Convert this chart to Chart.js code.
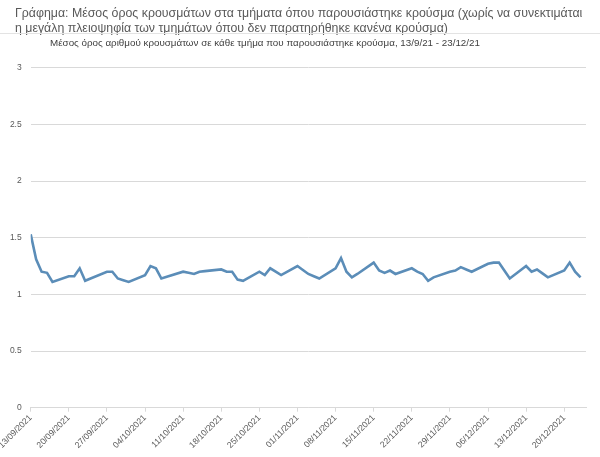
<!DOCTYPE html>
<html>
<head>
<meta charset="utf-8">
<script src="https://cdn.jsdelivr.net/npm/chart.js@4"></script>
<style>
  html, body { margin: 0; padding: 0; background: #fff; }
  body { width: 600px; height: 457px; position: relative; overflow: hidden; font-family: "Liberation Sans", Arial, sans-serif; }
  #t1, #t2 { position: absolute; left: 15px; color: #595959; white-space: nowrap; font-size: 14px; line-height: 15px; }
  #t1 { top: 6px; }
  #t2 { top: 21px; }
  #rule { position: absolute; left: 0; top: 33px; width: 600px; height: 0; border-top: 1px solid #e3e3e3; }
  #sub { position: absolute; top: 36px; color: #404040; white-space: nowrap; font-size: 11px; line-height: 13px; }
  #wrap { position: absolute; left: 0; top: 0; width: 600px; height: 457px; }
</style>
</head>
<body>
<div id="wrap"><canvas id="c" width="600" height="457"></canvas></div>
<div id="t1">Γράφημα: Μέσος όρος κρουσμάτων στα τμήματα όπου παρουσιάστηκε κρούσμα (χωρίς να συνεκτιμάται</div>
<div id="t2">η μεγάλη πλειοψηφία των τμημάτων όπου δεν παρατηρήθηκε κανένα κρούσμα)</div>
<div id="rule"></div>
<div id="sub">Μέσος όρος αριθμού κρουσμάτων σε κάθε τμήμα που παρουσιάστηκε κρούσμα, 13/9/21 - 23/12/21</div>
<script>
// ---- data ----
const dates = [
  '13/09/2021','14/09/2021','15/09/2021','16/09/2021','17/09/2021',
  '20/09/2021','21/09/2021','22/09/2021','23/09/2021','24/09/2021',
  '27/09/2021','28/09/2021','29/09/2021','30/09/2021','01/10/2021',
  '04/10/2021','05/10/2021','06/10/2021','07/10/2021','08/10/2021',
  '11/10/2021','12/10/2021','13/10/2021','14/10/2021','15/10/2021',
  '18/10/2021','19/10/2021','20/10/2021','21/10/2021','22/10/2021',
  '25/10/2021','26/10/2021','27/10/2021','28/10/2021','29/10/2021',
  '01/11/2021','02/11/2021','03/11/2021','04/11/2021','05/11/2021',
  '08/11/2021','09/11/2021','10/11/2021','11/11/2021','12/11/2021',
  '15/11/2021','16/11/2021','17/11/2021','18/11/2021','19/11/2021',
  '22/11/2021','23/11/2021','24/11/2021','25/11/2021','26/11/2021',
  '29/11/2021','30/11/2021','01/12/2021','02/12/2021','03/12/2021',
  '06/12/2021','07/12/2021','08/12/2021','09/12/2021','10/12/2021',
  '13/12/2021','14/12/2021','15/12/2021','16/12/2021','17/12/2021',
  '20/12/2021','21/12/2021','22/12/2021','23/12/2021'
];
const averageCases = [
  1.53, 1.31, 1.20, 1.19, 1.11,
  1.16, 1.16, 1.23, 1.12, 1.14,
  1.20, 1.20, 1.14, 1.125, 1.11,
  1.17, 1.25, 1.23, 1.14, 1.155,
  1.20, 1.19, 1.18, 1.20, 1.205,
  1.22, 1.20, 1.20, 1.13, 1.12,
  1.20, 1.17, 1.23, 1.20, 1.17,
  1.25, 1.215, 1.18, 1.16, 1.14,
  1.23, 1.32, 1.20, 1.15, 1.18,
  1.28, 1.21, 1.19, 1.21, 1.18,
  1.23, 1.20, 1.18, 1.12, 1.15,
  1.20, 1.21, 1.24, 1.22, 1.20,
  1.27, 1.28, 1.28, 1.21, 1.14,
  1.25, 1.20, 1.22, 1.185, 1.15,
  1.21, 1.28, 1.20, 1.15
];
const xTickLabels = [
  '13/09/2021','20/09/2021','27/09/2021','04/10/2021','11/10/2021',
  '18/10/2021','25/10/2021','01/11/2021','08/11/2021','15/11/2021',
  '22/11/2021','29/11/2021','06/12/2021','13/12/2021','20/12/2021'
];
const axisEndDate = '24/12/2021';
const yTicks = [0, 0.5, 1, 1.5, 2, 2.5, 3];

// ---- helpers ----
function dayNum(s) {
  const [d, m, y] = s.split('/').map(Number);
  return Date.UTC(y, m - 1, d) / 86400000;
}
const day0 = dayNum(xTickLabels[0]);
const points = dates.map((d, i) => ({ x: dayNum(d) - day0, y: averageCases[i] }));
const tickMap = {};
xTickLabels.forEach(l => { tickMap[dayNum(l) - day0] = l; });

// fit title text widths
function fitWidth(id, target, others) {
  const el = document.getElementById(id);
  const w = el.getBoundingClientRect().width;
  const fs = parseFloat(getComputedStyle(el).fontSize);
  const nfs = (fs * target / w) + 'px';
  el.style.fontSize = nfs;
  (others || []).forEach(o => { document.getElementById(o).style.fontSize = nfs; });
}
fitWidth('t1', 568, ['t2']);
fitWidth('sub', 430);
const sub = document.getElementById('sub');
sub.style.left = (265 - sub.getBoundingClientRect().width / 2) + 'px';

const tickFont = { family: "'Liberation Sans', Arial, sans-serif", size: 8.6 };

new Chart(document.getElementById('c'), {
  type: 'line',
  data: {
    datasets: [{
      data: points,
      borderColor: '#5B8DB8',
      borderWidth: 2.6,
      pointRadius: 0,
      tension: 0,
      fill: false
    }]
  },
  options: {
    responsive: false,
    animation: false,
    events: [],
    layout: { padding: { top: 67.7, right: 14, left: 0, bottom: 0 } },
    plugins: { legend: { display: false }, title: { display: false }, tooltip: { enabled: false } },
    scales: {
      x: {
        type: 'linear',
        min: 0,
        max: dayNum(axisEndDate) - day0,
        border: { display: true, color: '#d9d9d9', width: 1 },
        grid: { display: true, drawOnChartArea: false, drawTicks: true, tickLength: 4, color: '#d9d9d9' },
        ticks: {
          stepSize: 7,
          includeBounds: false,
          autoSkip: false,
          minRotation: 45,
          maxRotation: 45,
          padding: 1,
          color: '#595959',
          font: tickFont,
          callback: (v) => tickMap[v] !== undefined ? tickMap[v] : ''
        },
        afterFit: (s) => { s.height = 49.3; s.paddingLeft = 0; s.paddingRight = 0; }
      },
      y: {
        min: 0,
        max: 3,
        border: { display: false },
        grid: { color: '#d9d9d9', drawTicks: false, lineWidth: 1 },
        afterBuildTicks: (s) => { s.ticks = yTicks.map(v => ({ value: v })); },
        ticks: {
          padding: 9,
          color: '#595959',
          font: { family: "'Liberation Sans', Arial, sans-serif", size: 8.5 },
          callback: (v) => String(v)
        },
        afterFit: (s) => { s.width = 30.7; s.paddingTop = 0; s.paddingBottom = 0; }
      }
    }
  }
});
</script>
</body>
</html>
